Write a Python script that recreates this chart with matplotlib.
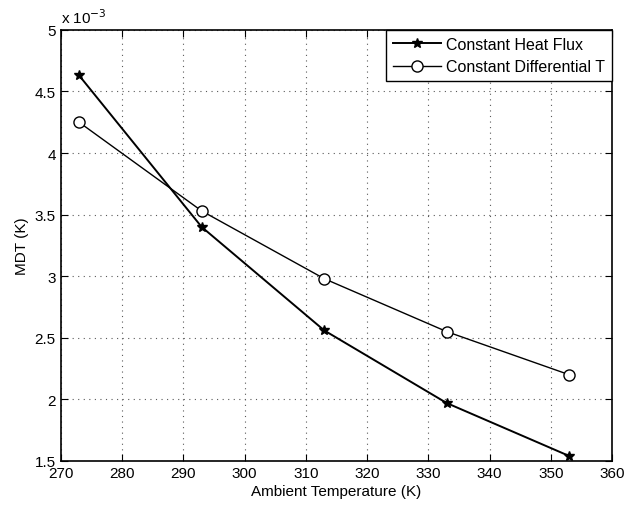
import numpy as np
import matplotlib.pyplot as plt
from matplotlib.ticker import FuncFormatter

plt.rcParams['font.family'] = ['Liberation Sans', 'DejaVu Sans']

# ambient temperature (K) and MDT in units of 1e-3 K
temps = [273, 293, 313, 333, 353]
heat_flux = [4.63, 3.40, 2.56, 1.97, 1.54]
diff_t = [4.25, 3.53, 2.98, 2.55, 2.20]
scale = 1e-3

fig = plt.figure(figsize=(6.26, 5.06), dpi=100)
ax = fig.add_axes([0.097, 0.087, 0.881, 0.852])

ax.plot(temps, np.array(heat_flux) * scale, 'k-', marker='*', markersize=7,
        linewidth=1.4, label='Constant Heat Flux')
ax.plot(temps, np.array(diff_t) * scale, 'k-', marker='o', markersize=8,
        markerfacecolor='white', markeredgewidth=1.0, linewidth=1.0,
        label='Constant Differential T')

ax.set_xlim(270, 360)
ax.set_ylim(1.5e-3, 5e-3)
ax.set_xticks(np.arange(270, 361, 10))
ax.set_yticks(np.arange(1.5, 5.01, 0.5) * scale)
ax.yaxis.set_major_formatter(FuncFormatter(lambda v, p: '%g' % round(v / scale, 2)))
ax.text(0.0, 1.008, r'x 10$^{-3}$', transform=ax.transAxes, fontsize=11,
        ha='left', va='bottom')

ax.grid(True, linestyle=(0, (1, 4)), color='0.35', linewidth=0.8)
ax.tick_params(direction='in', top=True, right=True, labelsize=11, length=5)
for s in ax.spines.values():
    s.set_linewidth(1.2)

ax.set_xlabel('Ambient Temperature (K)', fontsize=11, labelpad=3)
ax.set_ylabel('MDT (K)', fontsize=11, labelpad=4)

leg = ax.legend(loc='upper right', fontsize=11.5, fancybox=False, framealpha=1,
                edgecolor='black', borderaxespad=0.0, handlelength=3.0,
                borderpad=0.45, labelspacing=0.45, handletextpad=0.3)
leg.get_frame().set_linewidth(1.0)

fig.savefig('out.png', dpi=100)
